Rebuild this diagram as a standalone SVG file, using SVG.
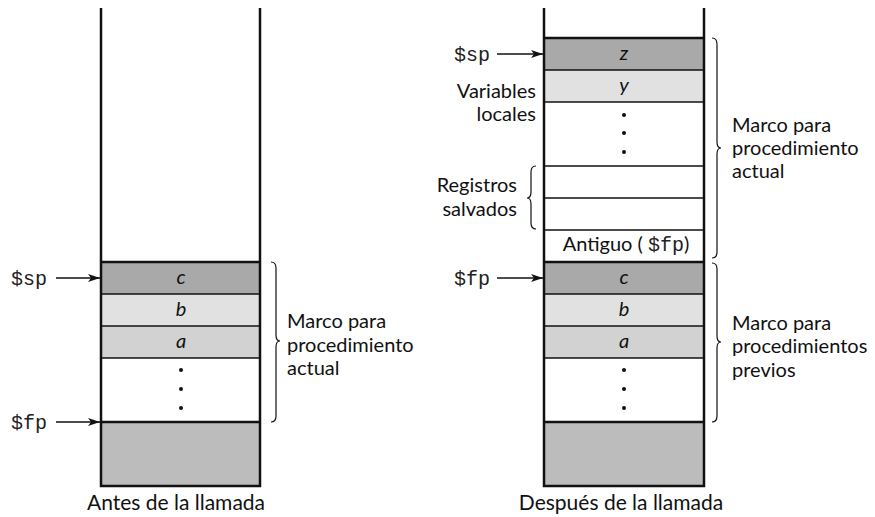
<svg xmlns="http://www.w3.org/2000/svg" width="875" height="517" viewBox="0 0 875 517">
<style>
.t{font-family:Lato,"Open Sans","Noto Sans",sans-serif;font-size:20px;fill:#111}
.c{font-family:Lato,"Open Sans","Noto Sans",sans-serif;font-size:21px;fill:#111}
.i{font-family:Lato,"Open Sans","Noto Sans",sans-serif;font-size:20px;font-style:italic;fill:#111}
.m{font-family:"Liberation Mono",monospace;font-size:20px;fill:#222}
.thick{stroke:#111;stroke-width:2.5;fill:none}
.thin{stroke:#111;stroke-width:1.3;fill:none}
.br{stroke:#111;stroke-width:1.2;fill:none}
.arr{stroke:#111;stroke-width:1.3;fill:none;marker-end:url(#ah)}
.d1{fill:#a9a9a9}.d2{fill:#e1e1e1}.d3{fill:#d2d2d2}.d4{fill:#bcbcbc}
</style>
<defs>
<marker id="ah" viewBox="0 0 12 8" refX="12" refY="4" markerWidth="12" markerHeight="8" markerUnits="userSpaceOnUse" orient="auto">
<path d="M0,0 L12,4 L0,8 L3,4 Z" fill="#111"/>
</marker>
</defs>
<rect width="875" height="517" fill="#fff"/>

<g id="stack-antes">
<rect class="d1" x="101" y="262" width="159" height="32"/>
<rect class="d2" x="101" y="294" width="159" height="32"/>
<rect class="d3" x="101" y="326" width="159" height="32"/>
<rect class="d4" x="101" y="422" width="159" height="64"/>
<line class="thin" x1="101" y1="294" x2="260" y2="294"/>
<line class="thin" x1="101" y1="326" x2="260" y2="326"/>
<line class="thin" x1="101" y1="358" x2="260" y2="358"/>
<line class="thick" x1="101" y1="262" x2="260" y2="262"/>
<line class="thick" x1="101" y1="422" x2="260" y2="422"/>
<path class="thick" d="M101,8 V486 H260 V8"/>
<text class="i" x="181" y="284" text-anchor="middle">c</text>
<text class="i" x="181" y="316" text-anchor="middle">b</text>
<text class="i" x="181" y="348" text-anchor="middle">a</text>
<circle cx="181" cy="370" r="2" fill="#111"/>
<circle cx="181" cy="389" r="2" fill="#111"/>
<circle cx="181" cy="408" r="2" fill="#111"/>
<text class="c" x="176" y="510" text-anchor="middle">Antes de la llamada</text>
</g>

<g id="stack-despues">
<rect class="d1" x="544" y="38" width="160" height="32"/>
<rect class="d2" x="544" y="70" width="160" height="32"/>
<rect class="d1" x="544" y="262" width="160" height="32"/>
<rect class="d2" x="544" y="294" width="160" height="32"/>
<rect class="d3" x="544" y="326" width="160" height="32"/>
<rect class="d4" x="544" y="422" width="160" height="64"/>
<line class="thin" x1="544" y1="70" x2="704" y2="70"/>
<line class="thin" x1="544" y1="102" x2="704" y2="102"/>
<line class="thin" x1="544" y1="166" x2="704" y2="166"/>
<line class="thin" x1="544" y1="198" x2="704" y2="198"/>
<line class="thin" x1="544" y1="230" x2="704" y2="230"/>
<line class="thin" x1="544" y1="294" x2="704" y2="294"/>
<line class="thin" x1="544" y1="326" x2="704" y2="326"/>
<line class="thin" x1="544" y1="358" x2="704" y2="358"/>
<line class="thick" x1="544" y1="38" x2="704" y2="38"/>
<line class="thick" x1="544" y1="262" x2="704" y2="262"/>
<line class="thick" x1="544" y1="422" x2="704" y2="422"/>
<path class="thick" d="M544,8 V486 H704 V8"/>
<text class="i" x="624" y="60" text-anchor="middle">z</text>
<text class="i" x="624" y="92" text-anchor="middle">y</text>
<circle cx="624" cy="115" r="2" fill="#111"/>
<circle cx="624" cy="133" r="2" fill="#111"/>
<circle cx="624" cy="152" r="2" fill="#111"/>
<text class="t" x="626" y="251" text-anchor="middle">Antiguo ( <tspan class="m">$fp</tspan>)</text>
<text class="i" x="624" y="284" text-anchor="middle">c</text>
<text class="i" x="624" y="316" text-anchor="middle">b</text>
<text class="i" x="624" y="348" text-anchor="middle">a</text>
<circle cx="624" cy="370" r="2" fill="#111"/>
<circle cx="624" cy="389" r="2" fill="#111"/>
<circle cx="624" cy="408" r="2" fill="#111"/>
<text class="c" x="621" y="510" text-anchor="middle">Después de la llamada</text>
</g>

<g id="labels-antes">
<text class="m" x="11" y="285">$sp</text>
<text class="m" x="11" y="429">$fp</text>
<text class="t" x="287" y="328">Marco para</text>
<text class="t" x="287" y="352">procedimiento</text>
<text class="t" x="287" y="375">actual</text>
</g>

<g id="labels-despues">
<text class="m" x="454" y="61">$sp</text>
<text class="m" x="454" y="285">$fp</text>
<text class="t" x="536" y="98" text-anchor="end">Variables</text>
<text class="t" x="536" y="121" text-anchor="end">locales</text>
<text class="t" x="517" y="192" text-anchor="end">Registros</text>
<text class="t" x="517" y="216" text-anchor="end">salvados</text>
<text class="t" x="732" y="132">Marco para</text>
<text class="t" x="732" y="155">procedimiento</text>
<text class="t" x="732" y="178">actual</text>
<text class="t" x="732" y="330">Marco para</text>
<text class="t" x="732" y="353">procedimientos</text>
<text class="t" x="732" y="377">previos</text>
</g>

<g id="connectors">
<line class="arr" x1="56" y1="278" x2="100" y2="278"/>
<line class="arr" x1="56" y1="422" x2="100" y2="422"/>
<line class="arr" x1="497" y1="54" x2="543" y2="54"/>
<line class="arr" x1="497" y1="278" x2="543" y2="278"/>
<path class="br" d="M271,262 Q276,262 276,268 L276,335 Q276,341 280,341 Q276,341 276,347 L276,416 Q276,422 271,422"/>
<path class="br" d="M712,38 Q717,38 717,44 L717,142 Q717,148 721,148 Q717,148 717,154 L717,252 Q717,258 712,258"/>
<path class="br" d="M712,263 Q717,263 717,269 L717,336 Q717,342 721,342 Q717,342 717,348 L717,416 Q717,422 712,422"/>
<path class="br" d="M536,166 Q531,166 531,172 L531,192 Q531,198 527,198 Q531,198 531,204 L531,223 Q531,229 536,229"/>
</g>
</svg>
